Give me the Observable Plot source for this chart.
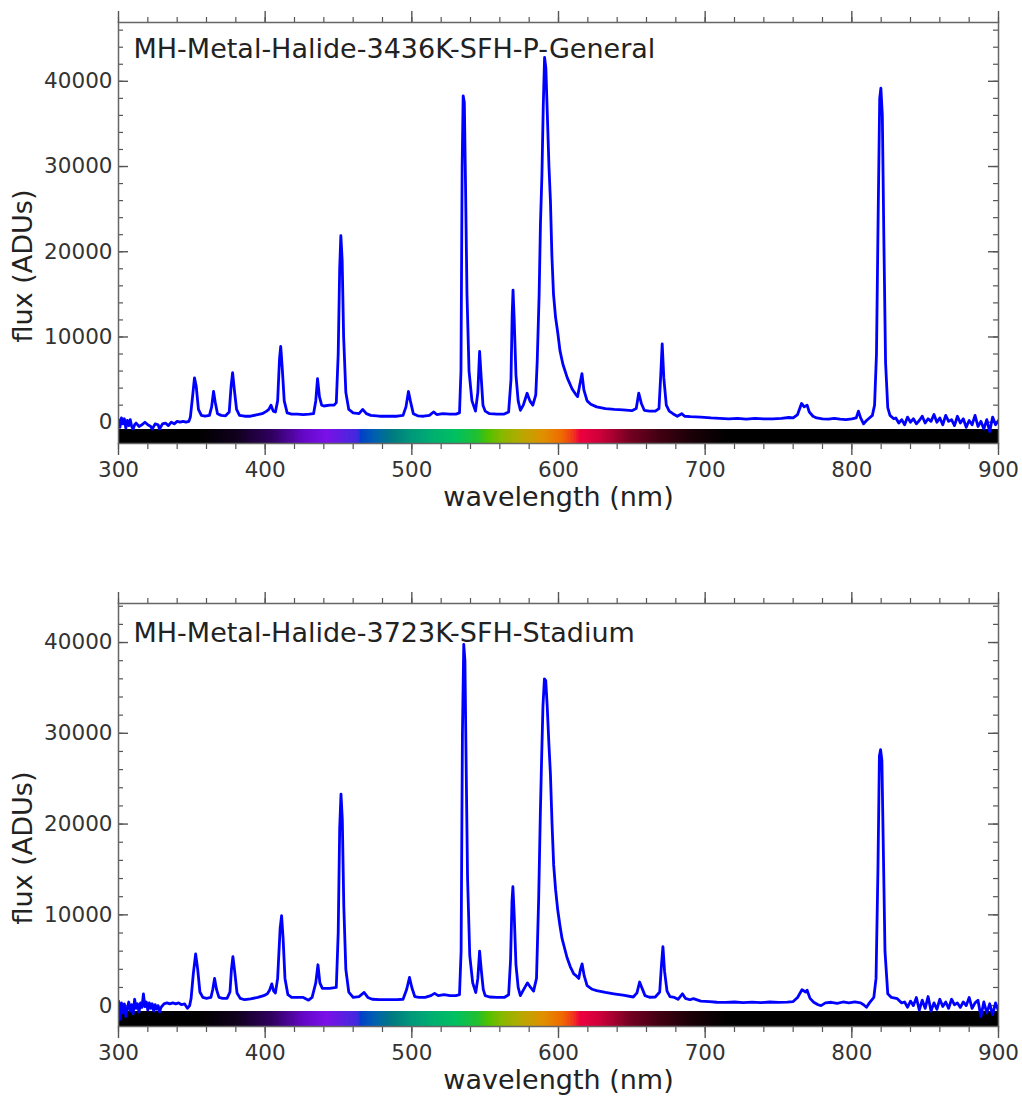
<!DOCTYPE html>
<html><head><meta charset="utf-8">
<script src="https://cdn.jsdelivr.net/npm/d3@7"></script>
<script src="https://cdn.jsdelivr.net/npm/@observablehq/plot@0.6"></script>
<style>
body{margin:0;background:#fff;font-family:"DejaVu Sans",sans-serif;}
#chart svg{display:block;}
</style></head><body><div id="chart"></div>
<script>
// ---------- data: panel A ----------
const titleA = "MH-Metal-Halide-3436K-SFH-P-General";
const wlA = [300,301,302,303,304,305,306,307,308,309,310,311,312,314,316,318,320,322,323,325,327,328,330,332,334,336,338,340,342,344,346,348,
349,350.5,351.8,353,354.5,356.5,359,362,363.5,364.8,366,367.5,370,373,375.5,376.8,377.8,379,380.5,382.5,386,390,394,398,401,402.5,404,405.5,407,408.5,409.8,410.6,411.6,413,415,418,422,426,430,433,434.5,435.7,437,438.5,440,444,447,448.5,449.8,450.8,451.6,452.5,453.5,455,457,460,464,466.5,469,472,478,484,490,494,496,497.7,499,501,504,508,512,514.8,517,521,526,530,532.5,533.5,534.3,535,535.8,536.6,537.6,539,541,543.4,545,546.2,547.2,548.5,550,553,558,563,566,567.6,568.4,569,569.8,571,572.5,574,576,578.6,580.5,582.5,584.5,585.5,586.8,587.7,588.7,589.6,590.5,591.4,592.4,593.5,594.5,595.5,596.6,598,599.5,601,603,606,609.3,611.6,613,614.3,616,617.3,619.5,622,626,632,638,644,650,653,654.7,656.5,658.5,662,666,668.5,669.7,670.7,671.8,673.5,675.5,678,681,684,686,690,697,704,710,716,722,728,734,740,746,752,757,760,763,765.7,767.5,769.5,771,773.5,776,780,784,788,792,796,800,803,804.5,806,808,810,812,814,815.5,816.8,818,819,819.8,820.8,821.8,823,824.5,826,828.6,
830,832,834,836,838,840,842,844,846,848,850,852,854,856,858,860,862,864,866,868,870,872,874,876,878,880,882,884,886,888,890,892,894,896,898,900];
const fluxA = [300,-600,500,-200,400,-700,200,-400,300,-500,-800,-300,-100,-500,-300,0,-300,-500,-800,-200,-300,-800,-200,-100,-400,0,-200,100,0,100,0,100,
600,3000,5200,4200,1500,800,700,800,1800,3600,2300,1000,800,750,1200,4300,5800,3800,1500,800,700,700,850,1000,1300,1500,2000,1300,1200,2500,7500,8900,6500,2500,1100,950,950,900,950,1000,2500,5100,3000,2000,1900,2000,2000,2300,8000,18000,21900,19000,10000,3500,1500,1100,1000,1500,1000,800,700,700,700,800,1800,3600,2500,1000,750,700,800,1200,900,1000,950,950,1100,6000,30000,38300,37500,28000,15000,6000,2500,1300,3500,8300,5500,2000,1300,1000,950,950,1200,5000,12500,15500,12000,5500,2500,1400,2000,3400,2500,2000,3200,7200,15000,23300,29000,37000,42800,41500,36000,30000,26000,19500,15000,12300,10500,8400,6800,5200,3900,3300,3000,4200,5700,3800,2500,2100,1800,1600,1500,1450,1350,1600,3400,2200,1400,1300,1300,1600,5500,9200,5200,2000,1300,1000,700,1000,700,650,600,500,450,400,450,350,450,380,400,450,550,500,900,2200,1800,2000,1200,700,500,400,350,450,350,300,400,500,1300,500,-200,200,500,800,2000,8000,25000,38000,39200,36000,22000,7000,1700,800,400,
500,-100,300,-300,600,0,400,-200,200,700,-100,400,100,900,0,500,-300,800,100,300,-400,700,-100,400,-600,200,-300,800,-500,100,-800,300,-1100,600,-300,200];

// ---------- data: panel B ----------
const titleB = "MH-Metal-Halide-3723K-SFH-Stadium";
const wlB = [300,301,302,303,304,305,306,307,308,309,310,311,312,313,314,315,316,317,318,319,320,321,322,323,324,325,326,327,328,329,331,333,335,337,339,341,343,345,347,348.5,
349.5,351,352.6,354,355.5,357.5,360,363,364.3,365.5,366.8,368.5,371,374,376,377,378,379.2,380.8,383,386,390,395,399,401.5,403,404.5,405.8,407,408.5,410.2,411.2,412.2,413.5,415.5,418,422,426,429.6,432,434.5,436,437.3,439,444,448.5,449.8,450.8,451.7,452.6,453.6,455,457,460,464,467.5,470,473,478,484,490,494,496.5,498.4,500,502,505,509,513,515.5,518,522,526,530,532.5,533.6,534.5,535.4,536.2,537,538,539.5,541.5,543.6,545,546.2,547.3,548.7,550,553,558,563,566,567.3,568.3,568.9,569.8,571,572.5,574,576,578.8,581,583,585,586.5,587.6,588.4,589.4,590.4,591.3,592.3,593.4,594.5,595.6,596.7,598,599.5,601,602.4,605.8,608,610.4,612,613.8,615,616.1,617.5,619.5,623,626,632,637.7,644,651,653.5,655.3,657,659,662,666,669,670.2,671.2,672.3,674,676,679,681.5,684.5,686.5,689.6,692,697,703,708,714,720,726,732,738,744,750,756,760,763,766,768.5,769.5,771.5,774,777,779,782,786,790,794,798,802,806,808,810,812,815,816.5,817.8,818.8,819.6,820.5,821.5,822.6,824.5,827,831,
834,836,838,840,842,844,846,848,850,852,854,856,858,860,862,864,866,868,870,872,874,876,878,880,882,884,886,888,890,892,894,896,898,900];
const fluxB = [500,-1500,300,-800,200,-1200,-300,400,-600,100,-900,700,-300,200,-700,300,-200,1300,-100,400,-500,300,-300,200,-600,100,-400,0,-700,-200,200,300,200,300,200,300,100,200,-300,0,
800,3500,5700,4000,1500,900,800,900,1800,3000,1800,900,800,800,1500,4000,5400,3800,1400,800,650,750,900,1100,1300,1700,2400,1600,1400,3000,8500,9900,7500,3000,1200,900,900,900,600,900,2500,4500,2500,1900,1900,2000,8000,19500,23300,20500,11000,4000,1500,900,1000,1450,900,700,650,650,650,700,1800,3100,2000,1000,900,900,1100,1350,1100,1200,1100,1100,1200,6000,30000,39800,38000,27000,14000,5500,2500,1450,3000,6000,4000,1800,1100,950,900,900,1200,5000,11500,13100,10000,4500,2000,1100,1700,2500,2000,1600,3000,11900,21000,26600,33000,36000,35800,33000,29000,25500,20000,15500,12800,10500,8800,7400,5300,4300,3500,3300,3000,4000,4600,3300,2200,1800,1650,1450,1300,1150,950,1400,2600,1900,1100,920,950,1500,4500,6500,3800,1600,1000,900,700,1300,800,650,770,500,450,370,350,400,330,380,330,400,350,380,450,900,1750,1500,1700,800,370,100,0,300,370,250,400,300,400,300,100,-180,300,900,3000,15000,27500,28200,27000,17000,6000,1300,900,770,
300,400,-180,500,0,900,-500,600,-300,1000,-600,300,-400,700,-100,400,-300,700,100,300,-200,400,0,900,-300,300,600,-1200,400,-800,200,-1000,300,-600];

// ---------- axes / ticks ----------
const xTickLabels = [300,400,500,600,700,800,900];
const yTickLabels = [0,10000,20000,30000,40000];
const xLabel = "wavelength (nm)";
const yLabel = "flux (ADUs)";

// ---------- spectrum colour bar stops ----------
const cbStops  = [300,355,380,405,427,442,455,463,465.5,475,487,500,515,530,545,552,562,575,590,603,611,614.5,630,650,670,690,715,900];
const cbColors = ["#000000","#000000","#10001c","#300060","#6508c8","#7a10e8","#5820e0","#4028e0","#0040c8","#0060b0","#007a80","#00987a","#00b070","#00c060","#20c030","#50c000","#88b800","#b8a800","#e09000","#f06800","#f03020","#f00040","#c8003a","#700020","#400012","#1c0008","#000000","#000000"];

const W = 1022, ML = 118, MR = 24;
const innerW = W - ML - MR;
const specColor = d3.scaleLinear().domain(cbStops).range(cbColors).interpolate(d3.interpolateRgb).clamp(true);
const cbData = d3.range(300, 900, 1);
const xMinor = d3.range(300, 901, 20);

function panel({wl, flux, title, yDomain, cbTop, height, marginTop, marginBottom, titleDy}) {
  const data = wl.map((w, i) => ({w, f: flux[i]}));
  const yMinor = d3.range(Math.ceil(yDomain[0] / 2000) * 2000, yDomain[1], 2000);
  const tickStroke = "#555";
  return Plot.plot({
    width: W, height, marginLeft: ML, marginRight: MR, marginTop, marginBottom,
    style: {fontFamily: "DejaVu Sans", background: "white", overflow: "visible", color: "#333"},
    x: {domain: [300, 900]},
    y: {domain: yDomain},
    color: {type: "identity"},
    marks: [
      // left / right inward ticks
      Plot.tickY(yMinor, {y: d => d, stroke: tickStroke, strokeWidth: 1.2, insetRight: innerW - 5}),
      Plot.tickY(yMinor, {y: d => d, stroke: tickStroke, strokeWidth: 1.2, insetLeft: innerW - 5}),
      Plot.tickY(yTickLabels, {y: d => d, stroke: tickStroke, strokeWidth: 1.4, insetRight: innerW - 10}),
      Plot.tickY(yTickLabels, {y: d => d, stroke: tickStroke, strokeWidth: 1.4, insetLeft: innerW - 10}),
      Plot.axisY({ticks: yTickLabels, anchor: "left", tickSize: 0, tickPadding: 6, fontSize: 21.5, fill: "#333", tickFormat: d => String(d), label: null}),
      // top / bottom outward ticks
      Plot.axisX({ticks: xMinor, anchor: "top", tickSize: 6, stroke: tickStroke, strokeWidth: 1.2, tickFormat: () => "", label: null}),
      Plot.axisX({ticks: xTickLabels, anchor: "top", tickSize: 12, stroke: tickStroke, strokeWidth: 1.4, tickFormat: () => "", label: null}),
      Plot.axisX({ticks: xMinor, anchor: "bottom", tickSize: 6, stroke: tickStroke, strokeWidth: 1.2, tickFormat: () => "", label: null}),
      Plot.axisX({ticks: xTickLabels, anchor: "bottom", tickSize: 12, tickPadding: 6, stroke: tickStroke, strokeWidth: 1.4, fontSize: 21.5, fill: "#333", tickFormat: d => String(d), label: null}),
      // colour bar
      Plot.rect(cbData, {x1: d => d, x2: d => d + 1, y1: yDomain[0], y2: cbTop, fill: d => specColor(d + 0.5), shapeRendering: "crispEdges"}),
      // spectrum
      Plot.line(data, {x: "w", y: "f", stroke: "#0000ff", strokeWidth: 2.8, strokeLinejoin: "round", clip: true}),
      Plot.frame({stroke: "#666", strokeWidth: 1.5}),
      // texts
      Plot.text([title], {text: d => d, frameAnchor: "top-left", dx: 15, dy: titleDy, lineAnchor: "bottom", textAnchor: "start", fontSize: 27, fill: "#222"}),
      Plot.text([yLabel], {text: d => d, frameAnchor: "left", rotate: -90, textAnchor: "middle", lineAnchor: "middle", dx: -95, dy: 33, fontSize: 27, fill: "#222"}),
      Plot.text([xLabel], {text: d => d, frameAnchor: "bottom", textAnchor: "middle", lineAnchor: "middle", dy: 54, fontSize: 27, fill: "#222"})
    ]
  });
}

const chart = document.getElementById("chart");
chart.append(panel({wl: wlA, flux: fluxA, title: titleA, yDomain: [-2500, 46900], cbTop: -850, height: 560, marginTop: 22, marginBottom: 117, titleDy: 35}));
chart.append(panel({wl: wlB, flux: fluxB, title: titleB, yDomain: [-2300, 44300], cbTop: -650, height: 537, marginTop: 43, marginBottom: 71, titleDy: 38}));
</script></body></html>
